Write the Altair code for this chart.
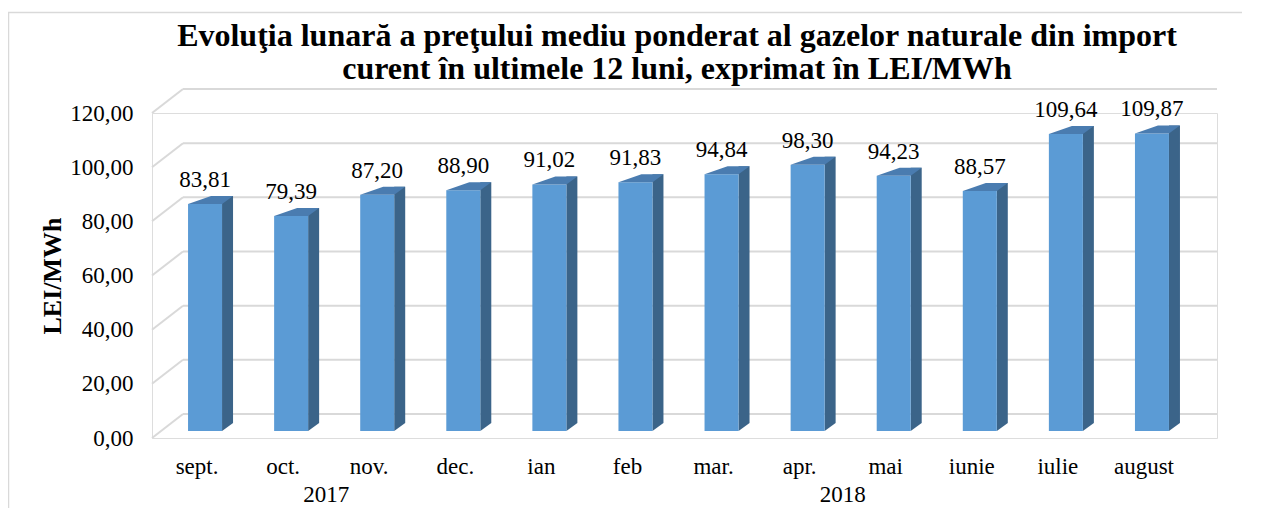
import altair as alt
import pandas as pd

# ---------------- data ----------------
months = ["sept.", "oct.", "nov.", "dec.", "ian", "feb", "mar.", "apr.",
          "mai", "iunie", "iulie", "august"]
values = [83.81, 79.39, 87.20, 88.90, 91.02, 91.83, 94.84, 98.30,
          94.23, 88.57, 109.64, 109.87]
years = ["2017", "2018"]
year_anchor = ["oct.", "apr."]          # month left of each year group's centre
ticks = [0, 20, 40, 60, 80, 100, 120]
title_lines = [
    "Evoluţia lunară a preţului mediu ponderat al gazelor naturale din import",
    "curent în ultimele 12 luni, exprimat în LEI/MWh",
]
y_title = "LEI/MWh"

df = pd.DataFrame({"luna": months, "valoare": values})
df["eticheta"] = [f"{v:.2f}".replace(".", ",") for v in values]
grid_df = pd.DataFrame({"valoare": ticks})
year_df = pd.DataFrame({"an": years, "luna": year_anchor})
one_df = pd.DataFrame({"a": [0]})

# ---------------- style ----------------
W, H = 1065, 325
FONT = "Liberation Serif"
FRONT = "#5b9bd5"
TOP = "#4a7cb0"
SIDE = "#3b6489"
GRID = "#d9d9d9"

x_enc = alt.X(
    "luna:N", sort=months,
    scale=alt.Scale(range=[10, 1043], paddingInner=0, paddingOuter=0),
    axis=alt.Axis(title=None, labelAngle=0, labelFont=FONT, labelFontSize=23,
                  labelColor="black", labelPadding=17, labelOffset=-8,
                  ticks=False, domain=False, grid=False),
)
y_enc = alt.Y(
    "valoare:Q",
    scale=alt.Scale(domain=[0, 120], nice=False, zero=True),
    axis=alt.Axis(values=ticks, title=y_title,
                  labelExpr="replace(format(datum.value, '.2f'), '.', ',')",
                  labelFont=FONT, labelFontSize=23, labelColor="black",
                  labelPadding=19, ticks=False, domain=False, grid=False,
                  titleFont=FONT, titleFontSize=26, titleFontWeight="bold",
                  titleColor="black", titlePadding=4),
)

base = alt.Chart(df)

# back-wall gridlines and their diagonal floor connectors
grid_back = alt.Chart(grid_df).mark_rule(color=GRID, strokeWidth=2, yOffset=-24).encode(
    y=y_enc, x=alt.value(31), x2=alt.value(W)
)
grid_diag = alt.Chart(grid_df).mark_rule(color=GRID, strokeWidth=2, y2Offset=-24).encode(
    y=y_enc, y2=alt.Y2("valoare:Q"), x=alt.value(0), x2=alt.value(31)
)

TOP_PATH = "M-0.5667,0L0.5667,0L0.9333,-0.2667L0.2,-0.2667Z"
BOT_PATH = "M0.5667,-0.2667L0.9333,-0.2667L0.5667,0Z"

side = base.mark_bar(size=11, xOffset=22.5, yOffset=-15, y2Offset=-15, color=SIDE).encode(
    x=x_enc, y=y_enc
)
side_bottom = base.mark_point(shape=BOT_PATH, size=3600, filled=True, opacity=1,
                              strokeWidth=0, color=SIDE, yOffset=-7).encode(
    x=x_enc, y=alt.datum(0)
)
front = base.mark_bar(size=34, yOffset=-7, y2Offset=-7, color=FRONT).encode(
    x=x_enc, y=y_enc
)
top = base.mark_point(shape=TOP_PATH, size=3600, filled=True, opacity=1,
                      strokeWidth=0, color=TOP, yOffset=-7).encode(
    x=x_enc, y=y_enc
)
labels = base.mark_text(dy=-24, baseline="alphabetic", font=FONT, fontSize=23,
                        color="black").encode(x=x_enc, y=y_enc, text="eticheta:N")
year_text = alt.Chart(year_df).mark_text(dx=35, baseline="alphabetic", font=FONT,
                                         fontSize=23, color="black").encode(
    x=x_enc, y=alt.value(389), text="an:N"
)

# chart frame (left and top edges visible in the picture), kept inside the canvas
frame_left = alt.Chart(one_df).mark_rule(color=GRID, strokeWidth=1.5).encode(
    x=alt.value(-143.5), y=alt.value(-100.5), y2=alt.value(395)
)
frame_top = alt.Chart(one_df).mark_rect(color=GRID, opacity=1).encode(
    x=alt.value(-144.25), x2=alt.value(1090), y=alt.value(-101.25), y2=alt.value(-99.75)
)

# two-line bold title
title1 = alt.Chart(one_df).mark_text(text=title_lines[0], font=FONT, fontSize=32,
                                     fontWeight="bold", color="black",
                                     align="center", baseline="alphabetic").encode(
    x=alt.value(525), y=alt.value(-67)
)
title2 = alt.Chart(one_df).mark_text(text=title_lines[1], font=FONT, fontSize=32,
                                     fontWeight="bold", color="black",
                                     align="center", baseline="alphabetic").encode(
    x=alt.value(525), y=alt.value(-34)
)

chart = alt.layer(
    frame_left, frame_top, grid_back, grid_diag, side, side_bottom, front, top,
    labels, year_text, title1, title2
).properties(
    width=W, height=H,
    autosize=alt.AutoSizeParams(type="none"),
    padding={"left": 144, "top": 105, "right": 40, "bottom": 71},
).configure_view(stroke=None).configure(background="white")

chart.save("out.html", embed_options={"renderer": "svg", "actions": False})
